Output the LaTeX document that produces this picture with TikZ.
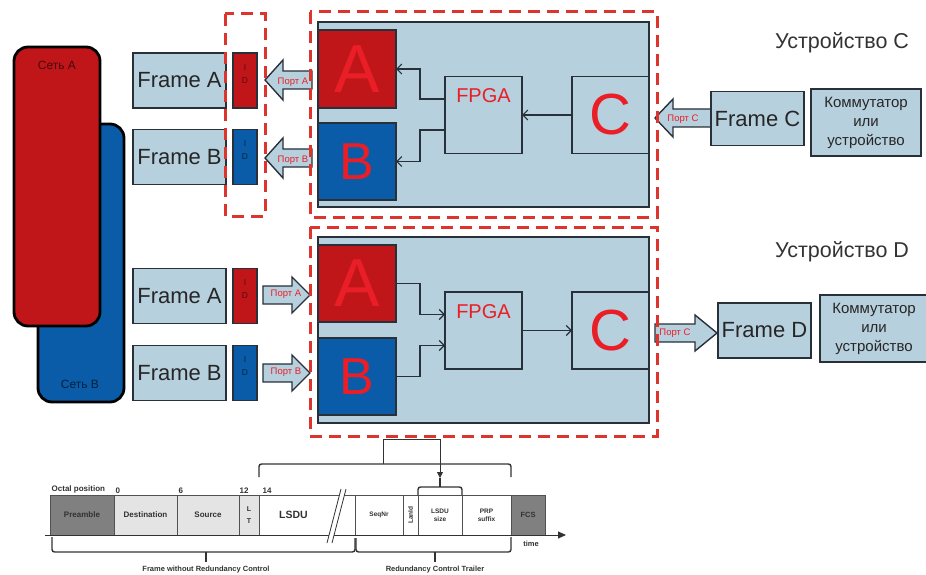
\documentclass[tikz,border=0pt]{standalone}
\usepackage{fontspec}
\setmainfont{Liberation Sans}
\usetikzlibrary{arrows.meta,positioning}

\definecolor{nred}{RGB}{192,22,26}
\definecolor{nblue}{RGB}{10,92,168}
\definecolor{lblue}{RGB}{183,208,222}
\definecolor{pred}{RGB}{234,30,38}
\definecolor{dred}{RGB}{222,52,46}
\definecolor{boxline}{RGB}{40,48,58}
\definecolor{dgray}{RGB}{128,128,128}
\definecolor{lgray}{RGB}{228,228,228}
\definecolor{ink}{RGB}{50,50,50}

\begin{document}
\begin{tikzpicture}[x=1pt,y=-1pt,>=Latex,
  lbox/.style={draw=boxline,fill=lblue,line width=1.1pt,inner sep=0pt,outer sep=0pt},
  framebox/.style={lbox,minimum width=93pt,minimum height=55pt,text=black!85,font=\fontsize{22}{24}\selectfont},
  idbox/.style={draw=boxline,line width=1.1pt,minimum width=24pt,minimum height=55pt,inner sep=0pt,align=center,font=\fontsize{8.5}{13}\selectfont},
  net/.style={draw=black,line width=2.8pt,rounded corners=14pt,inner sep=0pt,minimum width=86pt},
  netlbl/.style={font=\fontsize{12}{14}\selectfont,inner sep=0pt},
  abox/.style={draw=boxline,line width=1.1pt,inner sep=0pt,outer sep=0pt,minimum width=78pt,minimum height=77pt,text=pred},
  chip/.style={lbox,minimum width=77pt,minimum height=77pt,text=pred},
  fpgatxt/.style={text=pred,inner sep=0pt,font=\fontsize{20}{22}\selectfont},
  wire/.style={draw=boxline,line width=1.1pt,-{Straight Barb[length=5pt,width=10pt]}},
  blockarr/.style={draw=boxline,fill=lblue,line width=1.4pt,line join=miter},
  portlbl/.style={text=pred,inner sep=0pt,font=\fontsize{9.5}{10}\selectfont},
  devbound/.style={draw=dred,line width=3pt,dash pattern=on 12pt off 7pt},
  devtitle/.style={text=black!80,font=\fontsize{21.5}{24}\selectfont},
  swbox/.style={lbox,align=center,text=black!85,font=\fontsize{15}{19}\selectfont},
  seg/.style={draw=ink!85,line width=.8pt,minimum height=40pt,inner sep=0pt,outer sep=0pt,align=center,text=ink,font=\bfseries\fontsize{8}{9}\selectfont},
  small/.style={font=\bfseries\fontsize{6.5}{8}\selectfont},
  octlbl/.style={inner sep=1.5pt,text=ink,font=\bfseries\fontsize{8}{9}\selectfont},
  brc/.style={draw=ink,line width=1.4pt,rounded corners=2.5pt},
  link/.style={draw=ink,line width=.8pt,-{Triangle[length=6pt,width=6pt]}},
  brlbl/.style={inner sep=0pt,text=ink,font=\bfseries\fontsize{7.5}{9}\selectfont}]
\useasboundingbox (0,0) rectangle (926,575);

% networks
\node[net,fill=nblue,minimum height=278pt] (netB) at (81,263) {};
\node[net,fill=nred,minimum height=279pt] (netA) at (57,186.5) {};
\node[netlbl,text=nred!35!black] (netAt) at (57,65) {Сеть A};
\node[netlbl,text=nblue!35!black] (netBt) at (80,384) {Сеть B};

% frames and ids
\node[framebox] (frA1) at (179.5,80.5) {Frame A};
\node[framebox] (frB1) at (179.5,157) {Frame B};
\node[framebox] (frA2) at (179.5,296) {Frame A};
\node[framebox] (frB2) at (179.5,373) {Frame B};
\node[idbox,fill=nred,text=nred!45!black] (idA1) at (245,80.5) {I\\D\\~};
\node[idbox,fill=nblue,text=nblue!40!black] (idB1) at (245,157) {I\\D\\~};
\node[idbox,fill=nred,text=nred!45!black] (idA2) at (245,296) {I\\D\\~};
\node[idbox,fill=nblue,text=nblue!40!black] (idB2) at (245,373) {I\\D\\~};

% device C
\node[lbox,minimum width=331pt,minimum height=185pt] (devC) at (483.5,114.5) {};
\node[abox,fill=nred,minimum height=78pt,font=\fontsize{68}{68}\selectfont] (aC) at (357,69) {A};
\node[abox,fill=nblue,font=\fontsize{52}{52}\selectfont] (bC) at (357,161.5) {B};
\node[chip] (fpC) at (483.5,115) {};
\node[chip,font=\fontsize{58}{58}\selectfont] (cC) at (610.5,115) {C};
\node[fpgatxt,below=12pt of fpC.north] (fpCt) {FPGA};
\draw[wire] ([yshift=16pt]fpC.west) -- ++(-25,0) |- (aC.east);
\draw[wire] ([yshift=-15pt]fpC.west) -- ++(-25,0) |- (bC.east);
\draw[wire] (cC.west) -- (fpC.east);

% device D
\node[lbox,minimum width=331pt,minimum height=186pt] (devD) at (483.5,330) {};
\node[abox,fill=nred,font=\fontsize{68}{68}\selectfont] (aD) at (357,283.5) {A};
\node[abox,fill=nblue,font=\fontsize{52}{52}\selectfont] (bD) at (357,376.5) {B};
\node[chip] (fpD) at (483.5,330.5) {};
\node[chip,font=\fontsize{58}{58}\selectfont] (cD) at (610.5,330.5) {C};
\node[fpgatxt,below=12pt of fpD.north] (fpDt) {FPGA};
\draw[wire] (aD.east) -- ++(24,0) |- ([yshift=16pt]fpD.west);
\draw[wire] (bD.east) -- ++(24,0) |- ([yshift=-15pt]fpD.west);
\draw[wire] (fpD.east) -- (cD.west);

% port arrows
\draw[blockarr] (312,71) -- (283,71) -- (283,60) -- (265,80) -- (283,100) -- (283,89) -- (312,89) -- cycle;
\draw[blockarr] (312,149) -- (283,149) -- (283,138) -- (265,158) -- (283,178) -- (283,167) -- (312,167) -- cycle;
\draw[blockarr] (711,109) -- (673,109) -- (673,99) -- (655,118) -- (673,137) -- (673,127) -- (711,127) -- cycle;
\draw[blockarr] (263,286) -- (292,286) -- (292,277) -- (310,295) -- (292,313) -- (292,304) -- (263,304) -- cycle;
\draw[blockarr] (263,364) -- (292,364) -- (292,355) -- (310,373) -- (292,391) -- (292,382) -- (263,382) -- cycle;
\draw[blockarr] (655,324) -- (695,324) -- (695,315) -- (717,333) -- (695,351) -- (695,342) -- (655,342) -- cycle;
\node[portlbl] (pA1) at (293,82) {Порт A};
\node[portlbl] (pB1) at (293,160) {Порт B};
\node[portlbl] (pC1) at (683,119) {Порт C};
\node[portlbl] (pA2) at (286,294) {Порт A};
\node[portlbl] (pB2) at (286,372) {Порт B};
\node[portlbl] (pC2) at (675,333) {Порт C};

% dashed borders
\draw[devbound] (225,14) rectangle (265,216);
\draw[devbound] (310,12) rectangle (657,217);
\draw[devbound] (310,227) rectangle (657,436);

% right side
\node[devtitle] (tC) at (842,43) {Устройство C};
\node[devtitle] (tD) at (842,252) {Устройство D};
\node[framebox,minimum height=54pt] (frC) at (757.5,118.5) {Frame C};
\node[framebox] (frD) at (764.5,330.5) {Frame D};
\node[swbox,minimum width=110pt,minimum height=67pt] (swC) at (866,122.5) {Коммутатор\\или\\устройство};
\node[swbox,minimum width=108pt,minimum height=67pt] (swD) at (874,328.5) {Коммутатор\\или\\устройство};

% frame layout
\node[seg,fill=dgray,minimum width=64pt] (pre) at (82,515) {Preamble};
\node[seg,fill=lgray,minimum width=63pt,right=0pt of pre] (dst) {Destination};
\node[seg,fill=lgray,minimum width=62pt,right=0pt of dst] (src) {Source};
\node[seg,fill=lgray,minimum width=20pt,right=0pt of src,font=\bfseries\fontsize{7}{12}\selectfont] (lt) {L\\T};
\node[seg,fill=white,minimum width=96pt,right=0pt of lt,font=\bfseries\fontsize{10.5}{12}\selectfont] (lsdu) {LSDU\hspace{27pt}};
\node[seg,small,fill=white,minimum width=48pt,right=0pt of lsdu] (seq) {SeqNr};
\node[seg,small,fill=white,minimum width=15pt,right=0pt of seq] (lan) {\rotatebox{90}{LanId}};
\node[seg,small,fill=white,minimum width=44pt,right=0pt of lan] (lsz) {LSDU\\size};
\node[seg,small,fill=white,minimum width=49pt,right=0pt of lsz] (prp) {PRP\\suffix};
\node[seg,fill=dgray,minimum width=34pt,right=0pt of prp,font=\bfseries\fontsize{7.5}{9}\selectfont] (fcs) {FCS};
\node[octlbl,anchor=south west] (oct) at (pre.north west) {Octal position};
\node[octlbl,anchor=south west] (o0) at (dst.north west) {0};
\node[octlbl,anchor=south west] (o6) at (src.north west) {6};
\node[octlbl,anchor=south west] (o12) at ([xshift=-1pt]lt.north west) {12};
\node[octlbl,anchor=south west] (o14) at ([xshift=2pt]lsdu.north west) {14};

\coordinate (t0) at (45,535);
\coordinate (t1) at (566,535);
\draw[draw=ink,line width=.9pt,-{Triangle[length=8pt,width=7pt]}] (t0) -- (t1);
\node[brlbl,font=\bfseries\fontsize{7.5}{9}\selectfont] (tm) at (531,544) {time};

% break marks
\fill[white] (341,489) -- (327,543) -- (332,543) -- (346,489) -- cycle;
\draw[ink,line width=.8pt] (341,489) -- (327,543) (346,489) -- (332,543);

% braces
\draw[brc] (52,537) |- (355,552) -- (355,538);
\draw[brc] (206,552) -- (206,562);
\draw[brc] (356,538) |- (511,552) -- (511,537);
\draw[brc] (435,552) -- (435,562);
\draw[brc] (259,477) |- (511,464) -- (511,477);
\draw[brc] (418,495) |- (462,487) -- (462,495);
\node[brlbl] (fwrc) at (206,570) {Frame without Redundancy Control};
\node[brlbl] (rct) at (435,570) {Redundancy Control Trailer};

% link to device
\coordinate (upTip) at (383,464);
\coordinate (dvBot) at (383,439);
\coordinate (szTip) at (440,487);
\draw[link] (upTip) -- (dvBot) -| ([yshift=9pt]szTip);
\draw[brc] ([yshift=9pt]szTip) -- (szTip);
\end{tikzpicture}
\end{document}
